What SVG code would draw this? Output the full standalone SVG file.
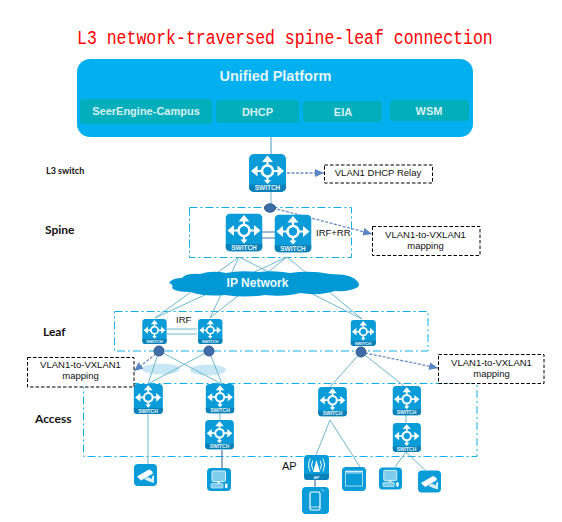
<svg xmlns="http://www.w3.org/2000/svg" width="562" height="522" viewBox="0 0 562 522">
<style>
text{font-family:"Liberation Sans",Arial,sans-serif}
.lab{font-family:"Liberation Sans",Arial,sans-serif;font-size:9.500px;fill:#111}
.tier{font-family:Lato,"Liberation Sans",sans-serif;font-weight:700;fill:#111}
.sub{font-size:11px;font-weight:700;fill:#d8f0f0;text-anchor:middle}
.sw{font-weight:700;fill:#e4f4fb;text-anchor:middle}
.band{fill:none;stroke:#12aee6;stroke-width:1;stroke-dasharray:8 3 2 3}
.note{fill:#fff;stroke:#000;stroke-width:1;stroke-dasharray:3.5 2}
.sub-box{fill:#02aebb}
.link{fill:none;stroke:#6fb8d0;stroke-width:1}
.blue{fill:none;stroke:#4a76a8;stroke-width:1.2}
.dash{fill:none;stroke:#6a8fca;stroke-width:1.3;stroke-dasharray:3 1.5;marker-end:url(#arrow)}
.dot{fill:#3f6ca8;stroke:#2f5a8c;stroke-width:1}
.halo{fill:#c7e7f4}
.w{fill:none;stroke:#fff;stroke-linecap:round;stroke-linejoin:round}
</style>
<defs>
<marker id="arrow" markerUnits="userSpaceOnUse" markerWidth="10" markerHeight="8" refX="9" refY="4" orient="auto">
<path d="M0 0L9 4L0 8Z" fill="#5b86c4"/>
</marker>
<symbol id="switch" viewBox="0 0 37 38">
<rect width="37" height="38" rx="5" fill="#0a9cd9"/>
<path d="M0 30.500H37V33A5 5 0 0 1 32 38H5A5 5 0 0 1 0 33Z" fill="#0a80b8"/>
<circle cx="18.500" cy="17" r="5.500" fill="none" stroke="#fff" stroke-width="2.600"/>
<path fill="none" stroke="#fff" stroke-width="2.200" d="M18.500 11V6M18.500 23V28M12.500 17H6M24.500 17H31"/>
<path fill="#fff" d="M18.500 1.500L24 8H13ZM2 17L8.500 11.500V22.500ZM35 17L28.500 11.500V22.500ZM18.500 30L15 26H22Z"/>
</symbol>
<symbol id="camera" viewBox="0 0 23 22">
<rect width="23" height="22" rx="4" fill="#0a9cd9"/>
<path fill="#fff" d="M3 12.500L15 5.500L18 7L19 9.500L7 16.500Z"/>
<path fill="#d5eef8" d="M10 15L15 17.500L20 19V11L18 12.500V15L14 13Z"/>
</symbol>
<symbol id="pc" viewBox="0 0 24 23">
<rect width="24" height="23" rx="4" fill="#0a9cd9"/>
<rect x="5" y="3" width="13.500" height="10.500" rx="1" fill="#7fcdec" stroke="#d5eef8" stroke-width="1"/>
<rect x="10" y="13.500" width="3" height="2" fill="#d5eef8"/>
<rect x="4" y="15.500" width="12" height="4.500" rx="1" fill="#7fcdec" stroke="#d5eef8" stroke-width=".7"/>
<rect x="18" y="15.500" width="2.500" height="4.500" rx="1" fill="#fff"/>
</symbol>
</defs>

<g id="title">
<text transform="translate(77 43.500) scale(1 1.200)" font-size="16.500" fill="#f00" style="font-family:'Liberation Mono',monospace">L3 network-traversed spine-leaf connection</text>
</g>

<g id="bands">
<rect class="band" x="189.500" y="207.500" width="162" height="50"/>
<rect class="band" x="114.500" y="311.500" width="313.500" height="39.500"/>
<rect class="band" x="83.500" y="383.500" width="393.500" height="73"/>
</g>

<g id="tier-labels">
<text class="tier" x="46" y="174" font-size="9">L3 switch</text>
<text class="tier" x="45" y="234" font-size="12">Spine</text>
<text class="tier" x="43" y="336" font-size="12">Leaf</text>
<text class="tier" x="35" y="423" font-size="12">Access</text>
<text class="lab" x="316" y="235.500">IRF+RR</text>
<text class="lab" x="176" y="323">IRF</text>
<text class="lab" x="282" y="470" style="font-size:11px">AP</text>
</g>

<g id="halos">
<ellipse class="halo" cx="161" cy="369" rx="19" ry="5.500"/>
<ellipse class="halo" cx="208" cy="370" rx="18" ry="5.500"/>
</g>

<g id="connectors">
<path class="link" style="stroke:#4a94b8" d="M271 137V154"/>
<path class="link" d="M271 192V204"/>
<path class="link" d="M239 257L155 318M239 257L210 318M239 257L362 319M287 257L155 318M287 257L210 318M287 257L362 319"/>
<path class="blue" d="M262 232H275M262 238H275"/>
<path class="link" d="M167 329H197M167 334H197"/>
<path class="link" d="M159 351L148 384M159 351L222 384M209 351L148 384M209 351L222 384M361 352L330 387M361 352L404 386"/>
<path class="link" d="M148 414V464M220 413V420M406 415V423M330 420L316 455M330 420L360 467M406 452L395 467M406 452L425 470"/>
<path class="blue" d="M222 450V468M315 480V487"/>
<path class="dash" d="M287 173H324"/>
<path class="dash" d="M273 208L372 234"/>
<path class="dash" d="M156 354L134 371"/>
<path class="dash" d="M365 353L438 368"/>
</g>

<g id="platform">
<rect x="77" y="59" width="396" height="78" rx="13" fill="#02afef"/>
<text x="275.500" y="81" font-size="14.500" font-weight="700" fill="#e4f4fb" text-anchor="middle">Unified Platform</text>
</g>
<g id="seerengine"><rect class="sub-box" x="80" y="99" width="132" height="25" rx="4"/><text class="sub" x="146" y="115">SeerEngine-Campus</text></g>
<g id="dhcp"><rect class="sub-box" x="216" y="100" width="83" height="23" rx="4"/><text class="sub" x="257.500" y="116">DHCP</text></g>
<g id="eia"><rect class="sub-box" x="303" y="101" width="79" height="21" rx="4"/><text class="sub" x="343" y="116">EIA</text></g>
<g id="wsm"><rect class="sub-box" x="390" y="100" width="79" height="21" rx="4"/><text class="sub" x="429" y="115">WSM</text></g>

<g id="l3-switch"><use href="#switch" x="249" y="154" width="37" height="38"/><text class="sw" x="267.500" y="190" font-size="6.500">SWITCH</text></g>
<g id="spine-1"><use href="#switch" x="225.500" y="213.500" width="37" height="38"/><text class="sw" x="244" y="249.500" font-size="6.500">SWITCH</text></g>
<g id="spine-2"><use href="#switch" x="274.500" y="214.500" width="37" height="38"/><text class="sw" x="293" y="250.500" font-size="6.500">SWITCH</text></g>

<g id="ip-network">
<path fill="#0099d6" d="M169 283Q172 278 182 278Q186 273 200 274Q212 270 226 273Q240 270 258 272Q275 270 290 273Q310 270 330 274Q350 274 356 280Q361 284 358 287Q350 292 335 291Q320 296 300 293Q285 297 265 295Q245 298 225 295Q205 297 190 292Q175 292 172 288Q174 285 169 283Z"/>
<text x="257.500" y="287" font-size="12" font-weight="700" fill="#eef9fd" text-anchor="middle">IP Network</text>
</g>

<g id="leaf-1"><use href="#switch" x="142" y="319" width="25" height="25"/><text class="sw" x="154.500" y="342.500" font-size="4.200">SWITCH</text></g>
<g id="leaf-2"><use href="#switch" x="197.500" y="319" width="25.500" height="25"/><text class="sw" x="210" y="342.500" font-size="4.200">SWITCH</text></g>
<g id="leaf-3"><use href="#switch" x="350.500" y="320" width="25.500" height="26"/><text class="sw" x="363" y="344.500" font-size="4.200">SWITCH</text></g>

<g id="dots">
<ellipse class="dot" cx="270" cy="208" rx="5.500" ry="4.200"/>
<circle class="dot" cx="159" cy="351" r="5"/>
<circle class="dot" cx="209" cy="351" r="5"/>
<circle class="dot" cx="361" cy="352" r="5"/>
</g>

<g id="access-1"><use href="#switch" x="133.500" y="384" width="29.500" height="30"/><text class="sw" x="148" y="412.500" font-size="5">SWITCH</text></g>
<g id="access-2"><use href="#switch" x="205.500" y="384" width="29" height="29.500"/><text class="sw" x="220" y="412" font-size="5">SWITCH</text></g>
<g id="access-2b"><use href="#switch" x="205" y="420" width="29" height="29.500"/><text class="sw" x="219.500" y="448" font-size="5">SWITCH</text></g>
<g id="access-3"><use href="#switch" x="318" y="387" width="29" height="29.500"/><text class="sw" x="332.500" y="415" font-size="5">SWITCH</text></g>
<g id="access-4"><use href="#switch" x="392.500" y="386" width="28.500" height="29.500"/><text class="sw" x="406.500" y="414" font-size="5">SWITCH</text></g>
<g id="access-4b"><use href="#switch" x="392.500" y="423" width="28.500" height="29"/><text class="sw" x="406.500" y="450.500" font-size="5">SWITCH</text></g>

<g id="camera-1"><use href="#camera" x="134" y="464" width="23" height="22"/></g>
<g id="pc-1"><use href="#pc" x="207" y="468" width="24" height="23"/></g>
<g id="ap">
<rect x="304" y="455" width="25" height="25" rx="3.500" fill="#0a9cd9"/>
<path d="M304 474H329V476.500A3.500 3.500 0 0 1 325.500 480H307.500A3.500 3.500 0 0 1 304 476.500Z" fill="#0a80b8"/>
<path fill="#fff" d="M316.500 460L320 472H313Z"/>
<path class="w" stroke-width="1" d="M312.500 461Q310.500 465 312.500 469M320.500 461Q322.500 465 320.500 469M310 459Q307 465 310 471M323 459Q326 465 323 471"/>
<text class="sw" x="316.500" y="478.500" font-size="4.200">AP</text>
</g>
<g id="phone">
<rect x="302" y="487" width="27" height="27" rx="4" fill="#0a9cd9"/>
<rect x="310" y="492" width="10" height="18" rx="1.500" fill="none" stroke="#fff" stroke-width="1.200"/>
<path d="M310 507H320" stroke="#fff" stroke-width=".8"/>
<path d="M321.500 489L324 491.500" stroke="#bfe6f5" stroke-width="1"/>
</g>
<g id="panel">
<rect x="342" y="467" width="24" height="24" rx="4" fill="#0a9cd9"/>
<rect x="345.500" y="473" width="17" height="13" fill="none" stroke="#a9dcf1" stroke-width="1"/>
<path d="M345 471.500H363" stroke="#d5eef8" stroke-width="1.600"/>
</g>
<g id="pc-2"><use href="#pc" x="379" y="467" width="23" height="23"/></g>
<g id="camera-2"><use href="#camera" x="418" y="470" width="23" height="23"/></g>

<g id="note-relay"><rect class="note" x="324.500" y="165" width="108" height="18"/><text class="lab" x="378" y="176" text-anchor="middle">VLAN1 DHCP Relay</text></g>
<g id="note-spine"><rect class="note" x="372.500" y="226.500" width="107.500" height="29"/><text class="lab" x="425.500" y="237.500" text-anchor="middle">VLAN1-to-VXLAN1</text><text class="lab" x="425.500" y="249" text-anchor="middle">mapping</text></g>
<g id="note-left"><rect class="note" x="27.500" y="357.500" width="106.500" height="29.500"/><text class="lab" x="80.500" y="368" text-anchor="middle">VLAN1-to-VXLAN1</text><text class="lab" x="80.500" y="379" text-anchor="middle">mapping</text></g>
<g id="note-right"><rect class="note" x="438.500" y="354.500" width="105.500" height="29"/><text class="lab" x="491.500" y="366" text-anchor="middle">VLAN1-to-VXLAN1</text><text class="lab" x="491.500" y="377" text-anchor="middle">mapping</text></g>
</svg>
